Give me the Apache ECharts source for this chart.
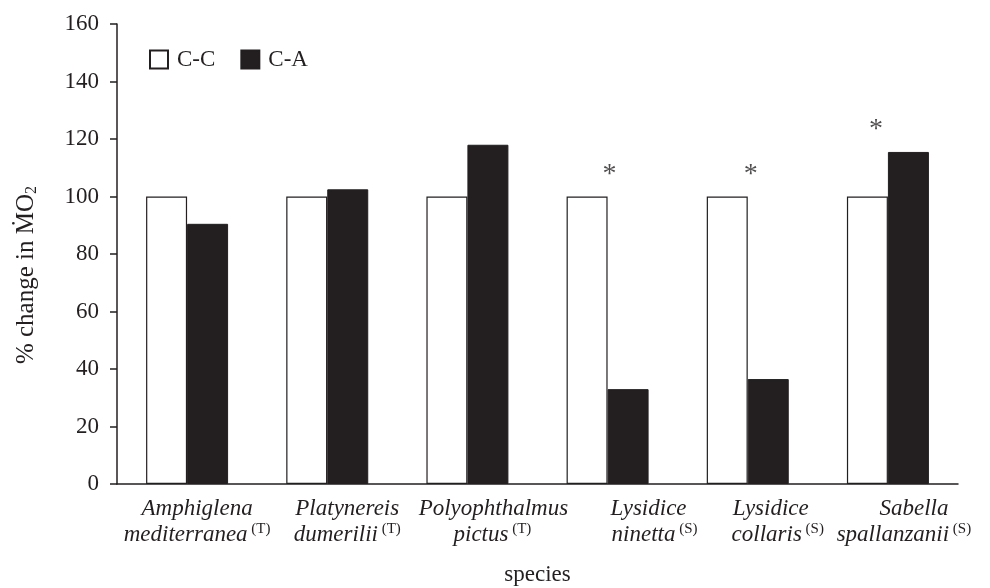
<!DOCTYPE html>
<html>
<head>
<meta charset="utf-8">
<script src="https://cdn.jsdelivr.net/npm/echarts@6/dist/echarts.min.js"></script>
<style>html,body{margin:0;padding:0;background:#fff}#c{width:990px;height:588px}</style>
</head>
<body>
<div id="c"></div>
<script>
const genusNames = ['Amphiglena', 'Platynereis', 'Polyophthalmus', 'Lysidice', 'Lysidice', 'Sabella'];
const speciesNames = ['mediterranea', 'dumerilii', 'pictus', 'ninetta', 'collaris', 'spallanzanii'];
const habitatTags = ['T', 'T', 'T', 'S', 'S', 'S'];
const categories = genusNames.map((g, i) => g + ' ' + speciesNames[i]);
const ccValues = [100, 100, 100, 100, 100, 100];
const caValues = [90.5, 102.5, 118, 33, 36.5, 115.5];
const starValues = [null, null, null, 109, 109, 124.5];
const yTicks = [0, 20, 40, 60, 80, 100, 120, 140, 160];

// label layout (styling only)
const line1Shift = [10, 20, 26, 41, 23, 26];
const line2Shift = [10, 20, 25, 47, 30, 16];
const starOffsetX = [0, 0, 0, 2, 3, -12];

const FONT = "'Liberation Serif', 'Times New Roman', serif";
const INK = '#231f20';
const FS = 23;

const rich = {
  it: { fontFamily: FONT, fontStyle: 'italic', fontSize: 23, color: INK, lineHeight: 26 },
  sup: { fontFamily: FONT, fontSize: 15, color: INK, verticalAlign: 'top', padding: [0, 0, 0, 0] }
};
line1Shift.concat(line2Shift).forEach(s => {
  rich['s' + (2 * s)] = { width: 2 * s, fontSize: 10, lineHeight: 26 };
});

const chart = echarts.init(document.getElementById('c'), null, { renderer: 'canvas' });
chart.setOption({
  animation: false,
  backgroundColor: '#fff',
  textStyle: { fontFamily: FONT, color: INK },
  grid: { left: 117, right: 32, top: 24, bottom: 104, containLabel: false, outerBoundsMode: 'none' },
  legend: {
    left: 144, top: 43,
    itemWidth: 18, itemHeight: 18, itemGap: 25,
    icon: 'rect',
    textStyle: { fontFamily: FONT, fontSize: FS, color: INK, padding: [0, 0, 0, 4] },
    data: ['C-C', 'C-A']
  },
  xAxis: {
    type: 'category',
    data: categories,
    name: 'species',
    nameLocation: 'middle',
    nameGap: 79,
    nameTextStyle: { fontFamily: FONT, fontSize: FS, color: INK },
    axisLine: { lineStyle: { color: INK, width: 1.5 } },
    axisTick: { show: false },
    axisLabel: {
      interval: 0,
      margin: 12,
      formatter: (v, i) =>
        '{s' + (2 * line1Shift[i]) + '| }{it|' + genusNames[i] + '}\n' +
        '{s' + (2 * line2Shift[i]) + '| }{it|' + speciesNames[i] + '}{sup| (' + habitatTags[i] + ')}',
      rich: rich
    }
  },
  yAxis: {
    type: 'value',
    min: 0, max: 160, interval: 20,
    name: '{t|% change in M\u0307O}{sub|2}',
    nameLocation: 'middle',
    nameGap: 77,
    nameRotate: 90,
    nameTextStyle: {
      padding: [0, 42, 0, 0],
      rich: {
        t: { fontFamily: FONT, fontSize: 25, color: INK },
        sub: { fontFamily: FONT, fontSize: 16, color: INK, padding: [11, 0, 0, 0] }
      }
    },
    axisLine: { show: true, lineStyle: { color: INK, width: 1.5 } },
    axisTick: { show: true, length: 7, lineStyle: { color: INK, width: 1.5 } },
    splitLine: { show: false },
    axisLabel: {
      margin: 18,
      fontFamily: FONT, fontSize: FS, color: INK,
      formatter: v => (yTicks.indexOf(v) >= 0 ? String(v) : '')
    }
  },
  series: [
    {
      name: 'C-C', type: 'bar', data: ccValues,
      barGap: '0%', barCategoryGap: '41.5%',
      itemStyle: { color: '#ffffff', borderColor: INK, borderWidth: 1.2 }
    },
    {
      name: 'C-A', type: 'bar', data: caValues,
      barGap: '0%', barCategoryGap: '41.5%',
      itemStyle: { color: INK, borderColor: INK, borderWidth: 1 }
    },
    {
      name: 'sig', type: 'scatter',
      data: starValues.map((v, i) => v == null ? null : {
        value: [categories[i], v],
        label: { offset: [starOffsetX[i], 4] }
      }).filter(d => d),
      symbolSize: 0,
      silent: true,
      label: {
        show: true, position: 'inside', formatter: '*',
        fontFamily: FONT, fontSize: 28, color: INK
      }
    }
  ]
});
</script>
</body>
</html>
